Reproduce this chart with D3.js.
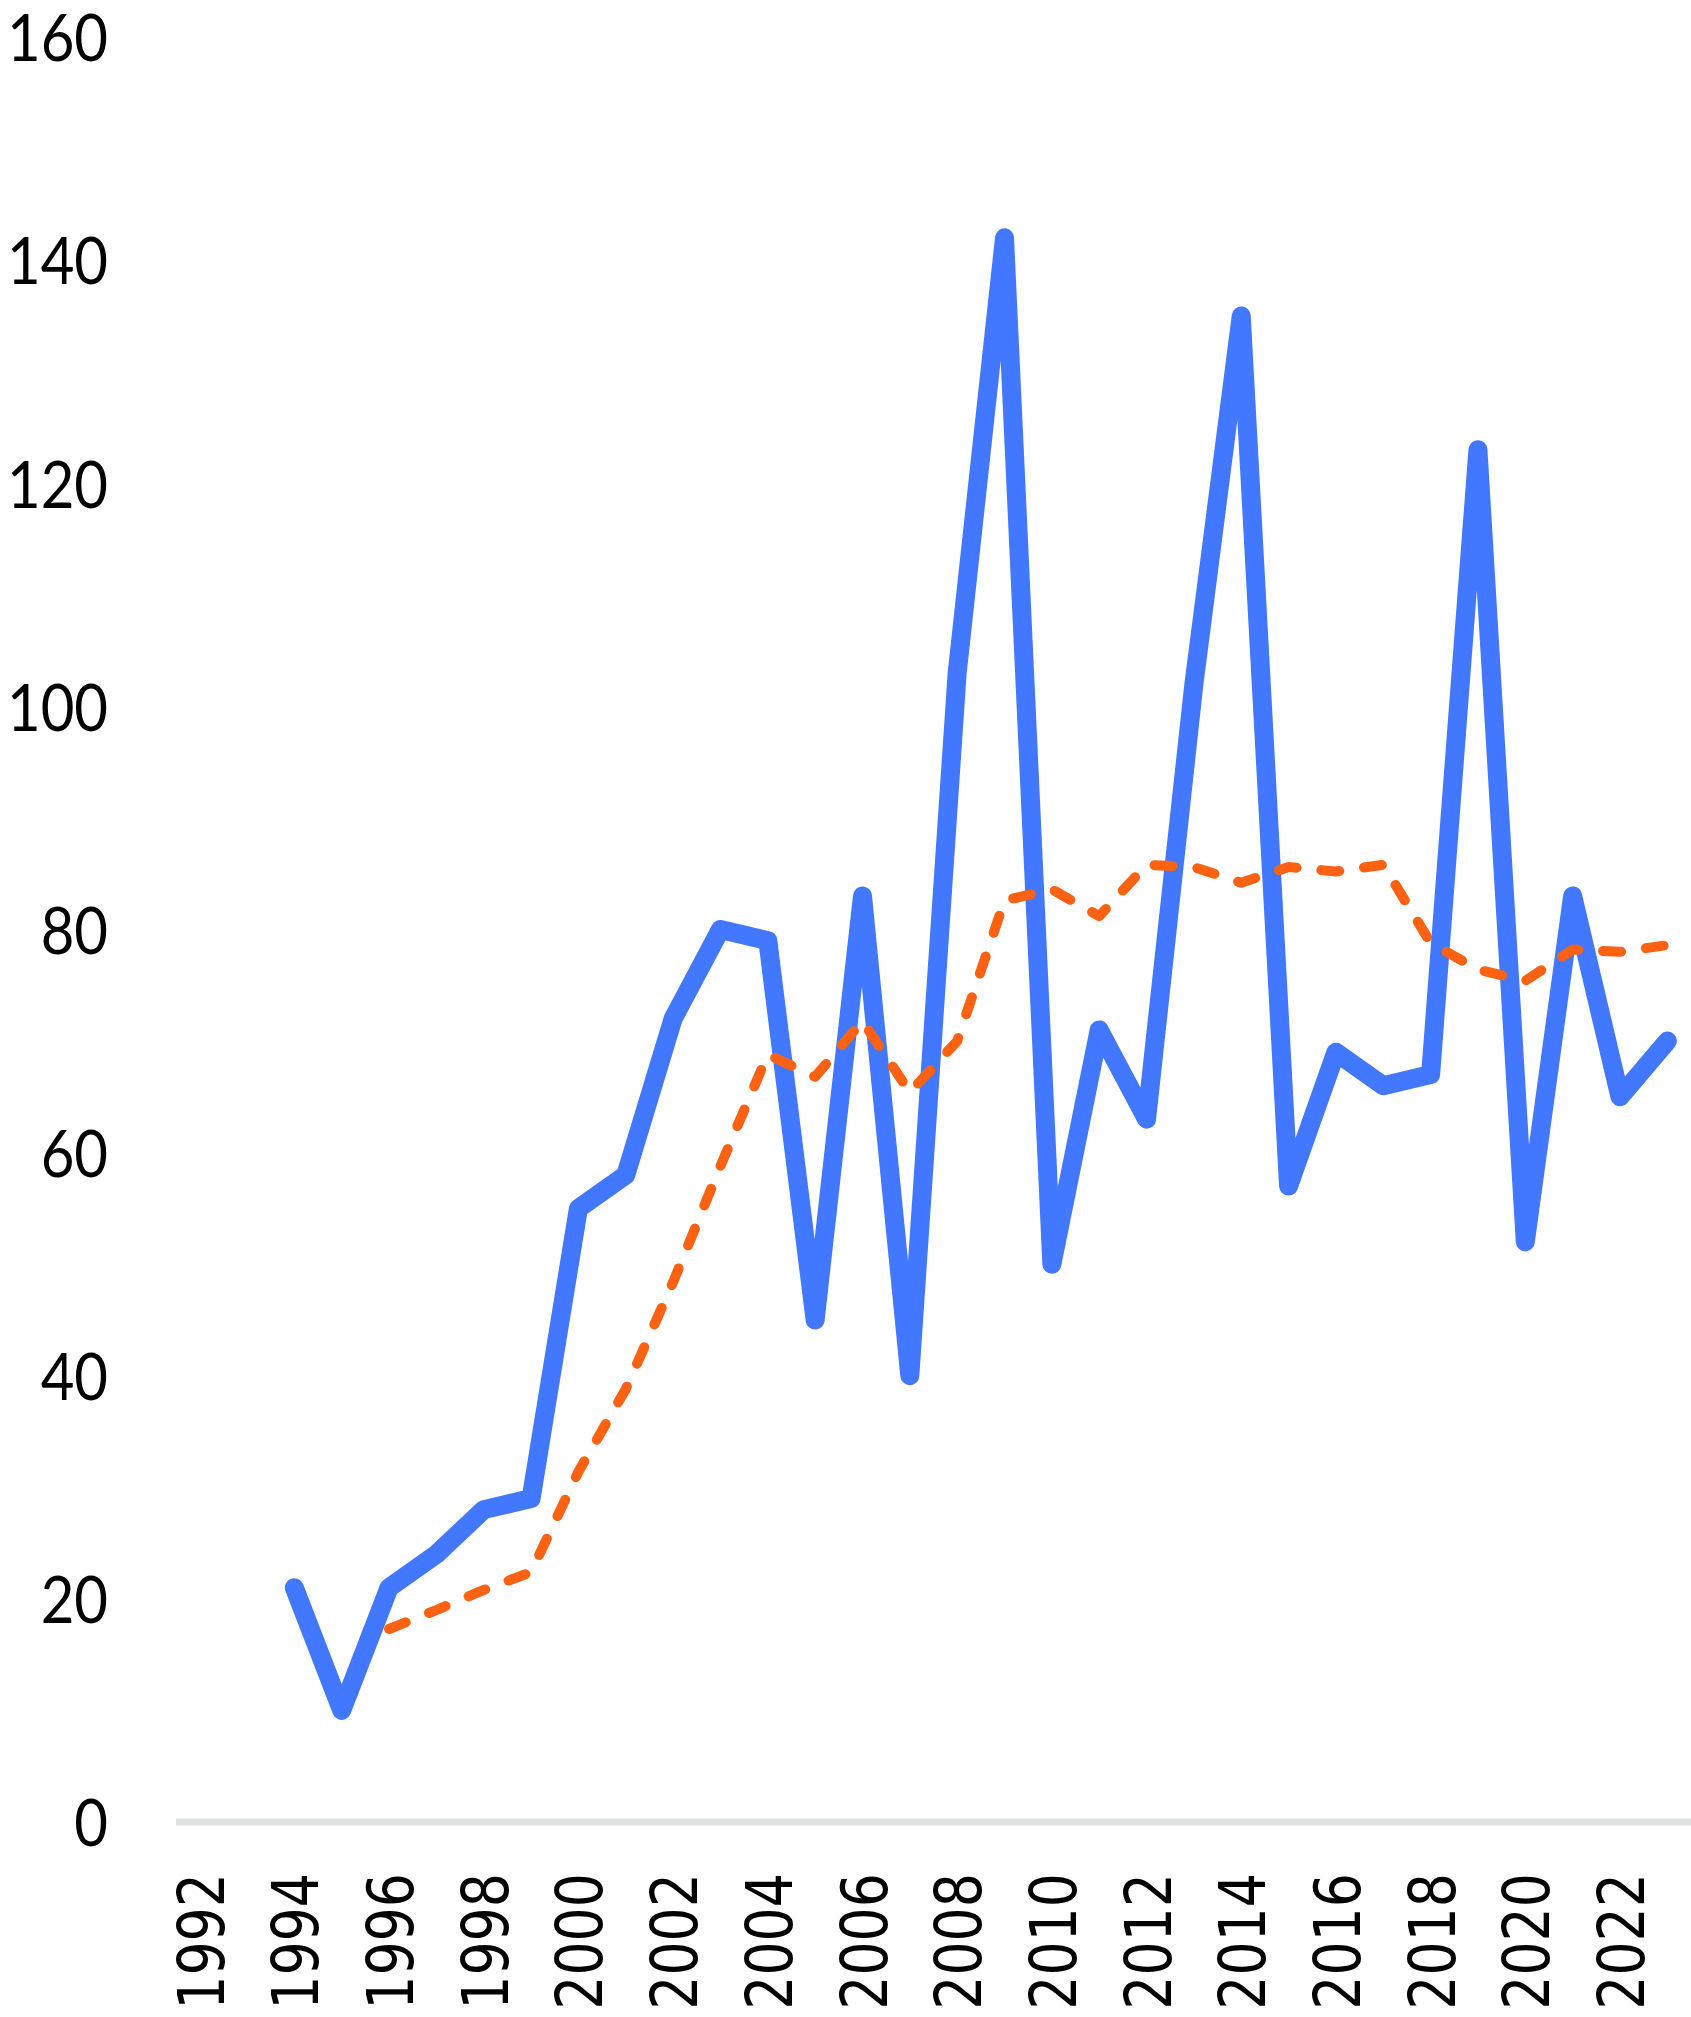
<!DOCTYPE html>
<html>
<head>
<meta charset="utf-8">
<script src="https://cdn.jsdelivr.net/npm/d3@7"></script>
<style>
  html, body { margin: 0; padding: 0; background: #ffffff; }
  svg { display: block; }
</style>
</head>
<body>
<script>
// ---- data ----
const years = [1992,1993,1994,1995,1996,1997,1998,1999,2000,2001,2002,2003,2004,2005,2006,2007,
               2008,2009,2010,2011,2012,2013,2014,2015,2016,2017,2018,2019,2020,2021,2022,2023];
const tickYears = [1992,1994,1996,1998,2000,2002,2004,2006,2008,2010,2012,2014,2016,2018,2020,2022];
const yTicks = [0,20,40,60,80,100,120,140,160];

const seriesYears = [1994,1995,1996,1997,1998,1999,2000,2001,2002,2003,2004,2005,2006,2007,2008,
                     2009,2010,2011,2012,2013,2014,2015,2016,2017,2018,2019,2020,2021,2022,2023];
const seriesValues = [21,10,21,24,28,29,55,58,72,80,79,45,83,40,103,
                      142,50,71,63,102,135,57,69,66,67,123,52,83,65,70];

const avgYears = [1996,1997,1998,1999,2000,2001,2002,2003,2004,2005,2006,2007,2008,2009,
                  2010,2011,2012,2013,2014,2015,2016,2017,2018,2019,2020,2021,2022,2023];
const avgValues = [17.3,19.0,20.8,22.4,31.4,38.8,48.4,58.8,68.8,66.8,71.8,65.4,70.0,82.6,
                   83.6,81.2,85.8,85.6,84.2,85.6,85.2,85.8,78.8,76.4,75.4,78.2,78.0,78.6];

// ---- layout ----
const W = 1691, H = 2017;
const svg = d3.select("body").append("svg").attr("width", W).attr("height", H);

const x = d3.scaleBand().domain(years).range([176, 1691]).paddingInner(0).paddingOuter(0);
const y = d3.scaleLinear().domain([0, 160]).range([1822, 37]);
const cx = d => x(d) + x.bandwidth() / 2;

// y axis labels
const yAxis = d3.axisLeft(y).tickValues(yTicks).tickSize(0).tickPadding(0);
const gy = svg.append("g").attr("transform", "translate(108,0)").call(yAxis);
gy.select(".domain").remove();
gy.selectAll(".tick text")
  .attr("font-family", "Lato, 'Open Sans', sans-serif")
  .attr("font-size", 66)
  .attr("fill", "#000")
  .attr("x", 0)
  .attr("dy", "0.36em")
  .attr("transform", "scale(0.88,1)");

// baseline
svg.append("line")
  .attr("x1", 176).attr("x2", 1691)
  .attr("y1", y(0)).attr("y2", y(0))
  .attr("stroke", "#dde1e1").attr("stroke-width", 7);

// x labels
const gx = svg.append("g");
gx.selectAll("text").data(tickYears).enter().append("text")
  .attr("transform", d => `translate(${cx(d) + 1},1873) rotate(-90) scale(0.84,1)`)
  .attr("text-anchor", "end")
  .attr("dy", "0.36em")
  .attr("font-family", "'DejaVu Sans', sans-serif")
  .attr("font-size", 64)
  .attr("fill", "#000")
  .text(d => d);

// lines
const blueData = seriesYears.map((yr, i) => [yr, seriesValues[i]]);
const avgData = avgYears.map((yr, i) => [yr, avgValues[i]]);
const line = d3.line().x(d => cx(d[0])).y(d => y(d[1]));

svg.append("path")
  .datum(blueData)
  .attr("d", line)
  .attr("fill", "none")
  .attr("stroke", "#4277ff")
  .attr("stroke-width", 19)
  .attr("stroke-linejoin", "round")
  .attr("stroke-linecap", "round");

svg.append("path")
  .datum(avgData)
  .attr("d", line)
  .attr("fill", "none")
  .attr("stroke", "#fd6213")
  .attr("stroke-width", 10)
  .attr("stroke-dasharray", "18 25")
  .attr("stroke-linejoin", "round")
  .attr("stroke-linecap", "round");
</script>
</body>
</html>
